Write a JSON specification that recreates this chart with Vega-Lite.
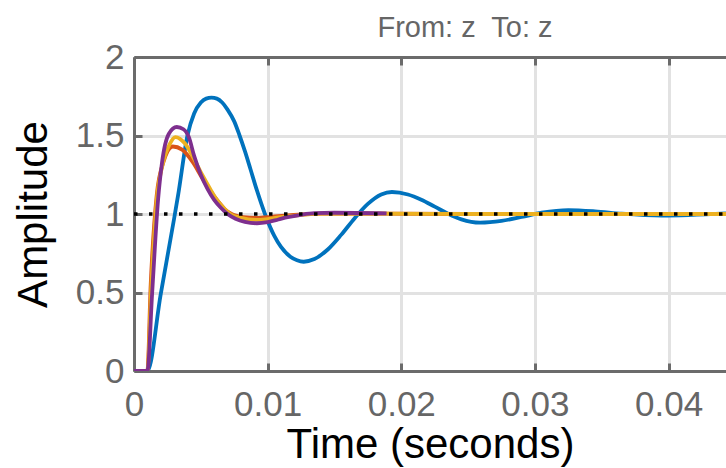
{
  "$schema": "https://vega.github.io/schema/vega-lite/v6.json",
  "width": 592,
  "height": 314,
  "autosize": {"type": "none"},
  "padding": {"left": 134, "top": 57, "right": 0, "bottom": 97},
  "background": "white",
  "config": {
    "view": {"stroke": null},
    "font": "Liberation Sans",
    "axis": {
      "domainColor": "#6b6b6b",
      "domainWidth": 3,
      "tickColor": "#6b6b6b",
      "tickWidth": 3,
      "tickSize": -8,
      "gridColor": "#e2e2e2",
      "gridWidth": 3,
      "labelColor": "#666666",
      "labelFont": "Liberation Sans",
      "labelFontSize": 35,
      "titleFont": "Liberation Sans",
      "titleFontSize": 42,
      "titleFontWeight": "normal",
      "titleColor": "#000000"
    }
  },
  "title": {
    "text": "From: z\u00a0 To: z",
    "font": "Liberation Sans",
    "fontSize": 29,
    "fontWeight": "normal",
    "color": "#666666",
    "anchor": "middle",
    "dx": 35,
    "offset": -3
  },
  "datasets": {
    "curves": [
      {"s": "1", "t": 0, "y": 0},
      {"s": "1", "t": 0.001, "y": 0},
      {"s": "1", "t": 0.002, "y": 0.49},
      {"s": "1", "t": 0.003, "y": 0.97},
      {"s": "1", "t": 0.0033, "y": 1.12},
      {"s": "1", "t": 0.004, "y": 1.5},
      {"s": "1", "t": 0.0045, "y": 1.64},
      {"s": "1", "t": 0.005, "y": 1.71},
      {"s": "1", "t": 0.0054, "y": 1.735},
      {"s": "1", "t": 0.0058, "y": 1.741},
      {"s": "1", "t": 0.0062, "y": 1.735},
      {"s": "1", "t": 0.0066, "y": 1.71},
      {"s": "1", "t": 0.007, "y": 1.665},
      {"s": "1", "t": 0.0075, "y": 1.59},
      {"s": "1", "t": 0.0079, "y": 1.5},
      {"s": "1", "t": 0.0083, "y": 1.4},
      {"s": "1", "t": 0.0087, "y": 1.29},
      {"s": "1", "t": 0.0092, "y": 1.15},
      {"s": "1", "t": 0.0098, "y": 1.0},
      {"s": "1", "t": 0.0105, "y": 0.86},
      {"s": "1", "t": 0.011, "y": 0.79},
      {"s": "1", "t": 0.0117, "y": 0.728},
      {"s": "1", "t": 0.0122, "y": 0.705},
      {"s": "1", "t": 0.0127, "y": 0.696},
      {"s": "1", "t": 0.0135, "y": 0.713},
      {"s": "1", "t": 0.0145, "y": 0.774},
      {"s": "1", "t": 0.0155, "y": 0.867},
      {"s": "1", "t": 0.0165, "y": 0.972},
      {"s": "1", "t": 0.0175, "y": 1.064},
      {"s": "1", "t": 0.0185, "y": 1.124},
      {"s": "1", "t": 0.0193, "y": 1.14},
      {"s": "1", "t": 0.0205, "y": 1.124},
      {"s": "1", "t": 0.0215, "y": 1.091},
      {"s": "1", "t": 0.0225, "y": 1.047},
      {"s": "1", "t": 0.0235, "y": 1.002},
      {"s": "1", "t": 0.0245, "y": 0.966},
      {"s": "1", "t": 0.0259, "y": 0.945},
      {"s": "1", "t": 0.0275, "y": 0.956},
      {"s": "1", "t": 0.029, "y": 0.981},
      {"s": "1", "t": 0.0305, "y": 1.008},
      {"s": "1", "t": 0.0325, "y": 1.025},
      {"s": "1", "t": 0.0345, "y": 1.017},
      {"s": "1", "t": 0.0365, "y": 1.002},
      {"s": "1", "t": 0.0395, "y": 0.99},
      {"s": "1", "t": 0.0443, "y": 1.004},

      {"s": "2", "t": 0, "y": 0},
      {"s": "2", "t": 0.001, "y": 0},
      {"s": "2", "t": 0.00125, "y": 0.55},
      {"s": "2", "t": 0.0017, "y": 1.12},
      {"s": "2", "t": 0.0022, "y": 1.33},
      {"s": "2", "t": 0.0029, "y": 1.43},
      {"s": "2", "t": 0.0036, "y": 1.41},
      {"s": "2", "t": 0.0044, "y": 1.33},
      {"s": "2", "t": 0.0051, "y": 1.23},
      {"s": "2", "t": 0.0057, "y": 1.15},
      {"s": "2", "t": 0.0063, "y": 1.08},
      {"s": "2", "t": 0.0068, "y": 1.03},
      {"s": "2", "t": 0.0073, "y": 1.0},
      {"s": "2", "t": 0.0082, "y": 0.98},
      {"s": "2", "t": 0.0092, "y": 0.975},
      {"s": "2", "t": 0.0103, "y": 0.982},
      {"s": "2", "t": 0.0113, "y": 0.99},
      {"s": "2", "t": 0.0127, "y": 0.998},
      {"s": "2", "t": 0.014, "y": 1.003},
      {"s": "2", "t": 0.0189, "y": 1.002},
      {"s": "2", "t": 0.025, "y": 1.0},
      {"s": "2", "t": 0.0443, "y": 1.0},

      {"s": "3", "t": 0, "y": 0},
      {"s": "3", "t": 0.001, "y": 0},
      {"s": "3", "t": 0.0013, "y": 0.55},
      {"s": "3", "t": 0.0017, "y": 1.09},
      {"s": "3", "t": 0.0021, "y": 1.3},
      {"s": "3", "t": 0.0027, "y": 1.45},
      {"s": "3", "t": 0.0031, "y": 1.49},
      {"s": "3", "t": 0.0038, "y": 1.45},
      {"s": "3", "t": 0.0045, "y": 1.35},
      {"s": "3", "t": 0.0051, "y": 1.25},
      {"s": "3", "t": 0.0057, "y": 1.16},
      {"s": "3", "t": 0.0062, "y": 1.09},
      {"s": "3", "t": 0.0067, "y": 1.04},
      {"s": "3", "t": 0.0072, "y": 1.0},
      {"s": "3", "t": 0.008, "y": 0.975},
      {"s": "3", "t": 0.0092, "y": 0.962},
      {"s": "3", "t": 0.01, "y": 0.968},
      {"s": "3", "t": 0.011, "y": 0.98},
      {"s": "3", "t": 0.0125, "y": 0.995},
      {"s": "3", "t": 0.014, "y": 1.003},
      {"s": "3", "t": 0.0189, "y": 1.003},
      {"s": "3", "t": 0.025, "y": 1.0},
      {"s": "3", "t": 0.0443, "y": 1.0},

      {"s": "4", "t": 0, "y": 0},
      {"s": "4", "t": 0.001, "y": 0},
      {"s": "4", "t": 0.00136, "y": 0.5},
      {"s": "4", "t": 0.0018, "y": 1.09},
      {"s": "4", "t": 0.0021, "y": 1.33},
      {"s": "4", "t": 0.0026, "y": 1.51},
      {"s": "4", "t": 0.0032, "y": 1.554},
      {"s": "4", "t": 0.0037, "y": 1.54},
      {"s": "4", "t": 0.0041, "y": 1.49},
      {"s": "4", "t": 0.0045, "y": 1.37},
      {"s": "4", "t": 0.005, "y": 1.25},
      {"s": "4", "t": 0.0055, "y": 1.16},
      {"s": "4", "t": 0.006, "y": 1.09},
      {"s": "4", "t": 0.0065, "y": 1.04},
      {"s": "4", "t": 0.007, "y": 1.0},
      {"s": "4", "t": 0.0076, "y": 0.97},
      {"s": "4", "t": 0.0083, "y": 0.95},
      {"s": "4", "t": 0.0092, "y": 0.941},
      {"s": "4", "t": 0.01, "y": 0.948},
      {"s": "4", "t": 0.0108, "y": 0.965},
      {"s": "4", "t": 0.0115, "y": 0.98},
      {"s": "4", "t": 0.0125, "y": 0.995},
      {"s": "4", "t": 0.0135, "y": 1.005},
      {"s": "4", "t": 0.015, "y": 1.008},
      {"s": "4", "t": 0.0189, "y": 1.004}
    ],
    "ref": [
      {"t": 0, "y": 1},
      {"t": 0.0443, "y": 1}
    ]
  },
  "layer": [
    {
      "data": {"name": "curves"},
      "mark": {"type": "line", "interpolate": "monotone", "strokeWidth": 3.8, "strokeJoin": "round", "clip": true},
      "encoding": {
        "x": {
          "field": "t", "type": "quantitative",
          "scale": {"domain": [0, 0.0443], "nice": false, "zero": false},
          "axis": {
            "values": [0, 0.01, 0.02, 0.03, 0.04],
            "format": "~g",
            "title": "Time (seconds)",
            "labelPadding": 24,
            "titlePadding": 2,
            "labelFlush": false
          }
        },
        "y": {
          "field": "y", "type": "quantitative",
          "scale": {"domain": [0, 2], "nice": false},
          "axis": {
            "values": [0, 0.5, 1, 1.5, 2],
            "format": "~g",
            "title": "Amplitude",
            "labelPadding": 18,
            "titlePadding": 20,
            "labelFlush": false
          }
        },
        "color": {
          "field": "s", "type": "nominal",
          "scale": {"domain": ["1", "2", "3", "4"], "range": ["#0072BD", "#D95319", "#EDB120", "#7E2F8E"]},
          "legend": null
        },
        "order": {"field": "s", "type": "nominal"}
      }
    },
    {
      "data": {"name": "ref"},
      "mark": {"type": "line", "color": "#000000", "strokeWidth": 3.5, "strokeDash": [3.5, 11.5], "strokeCap": "butt"},
      "encoding": {
        "x": {
          "field": "t", "type": "quantitative",
          "axis": {
            "orient": "top",
            "values": [0, 0.01, 0.02, 0.03, 0.04],
            "labels": false,
            "title": null,
            "grid": false
          }
        },
        "y": {"field": "y", "type": "quantitative"}
      }
    }
  ],
  "resolve": {"axis": {"x": "independent"}}
}
